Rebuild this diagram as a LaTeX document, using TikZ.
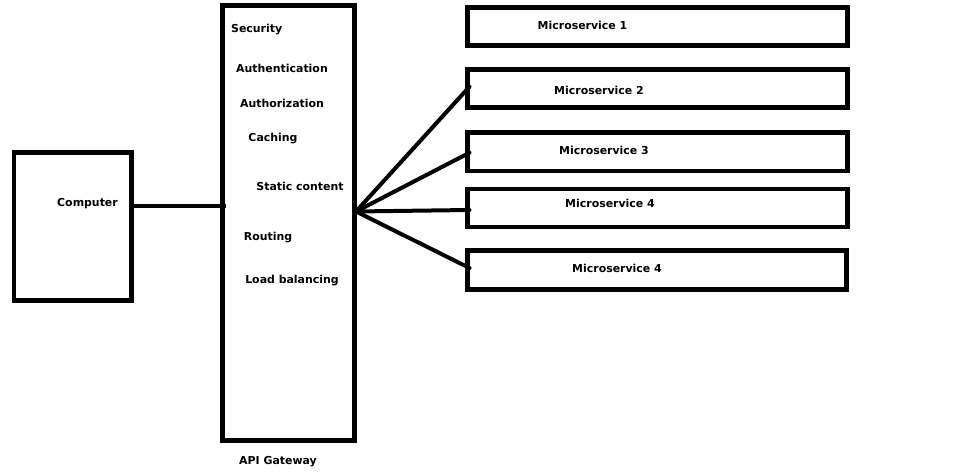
\documentclass[tikz,border=0pt]{standalone}
\usepackage{fontspec}
\setmainfont{DejaVu Sans}
\begin{document}
\begin{tikzpicture}[x=0.75pt,y=-0.75pt,
  box/.style={draw=black,line width=3.4pt,minimum width=0pt,minimum height=0pt,inner sep=0pt,outer sep=0pt,anchor=north west},
  lbl/.style={font=\bfseries\fontsize{8.2}{10}\selectfont,inner sep=0pt},
  wire/.style={line width=3pt,line cap=round}]
\useasboundingbox[fill=white] (0,0) rectangle (972,473);
\node[box,minimum width=117.5*0.75pt,minimum height=148*0.75pt] (comp) at (14,152.5) {};
\node[box,minimum width=132*0.75pt,minimum height=435*0.75pt] (gw) at (222.5,5.5) {};
\node[box,minimum width=380*0.75pt,minimum height=38*0.75pt] (ms1) at (467.5,7.5) {};
\node[box,minimum width=380*0.75pt,minimum height=38*0.75pt] (ms2) at (467.5,69.5) {};
\node[box,minimum width=380*0.75pt,minimum height=38.5*0.75pt] (ms3) at (467.5,132.5) {};
\node[box,minimum width=380*0.75pt,minimum height=38*0.75pt] (ms4) at (467.5,189) {};
\node[box,minimum width=379*0.75pt,minimum height=39*0.75pt] (ms5) at (467.5,250.5) {};
\node[lbl] (tcomp) at (87.5,203.5) {Computer};
\node[lbl] (tsec) at (256.7,30) {Security};
\node[lbl] (tauth) at (282,68.5) {Authentication};
\node[lbl] (tautz) at (282,103.5) {Authorization};
\node[lbl] (tcache) at (273,138.5) {Caching};
\node[lbl] (tstat) at (300,186.5) {Static content};
\node[lbl] (trout) at (268,237.5) {Routing};
\node[lbl] (tload) at (292,280.5) {Load balancing};
\node[lbl] (tgw) at (278,461.5) {API Gateway};
\node[lbl] (t1) at (582.5,25) {Microservice 1};
\node[lbl] (t2) at (599,90) {Microservice 2};
\node[lbl] (t3) at (604,150) {Microservice 3};
\node[lbl] (t4) at (610,203) {Microservice 4};
\node[lbl] (t5) at (617,268.5) {Microservice 4};
\coordinate (gin) at (226,205.7);
\coordinate (fan) at (356,211.5);
\coordinate (e2) at (469.5,86.7);
\coordinate (e3) at (469.5,152.7);
\coordinate (e4) at (469.5,210);
\coordinate (e5) at (469.5,268);
\draw[wire,line cap=butt] (comp.east |- gin) -- (gin);
\draw[wire] (fan) -- (e2);
\draw[wire] (fan) -- (e3);
\draw[wire] (fan) -- (e4);
\draw[wire] (fan) -- (e5);
\end{tikzpicture}
\end{document}
